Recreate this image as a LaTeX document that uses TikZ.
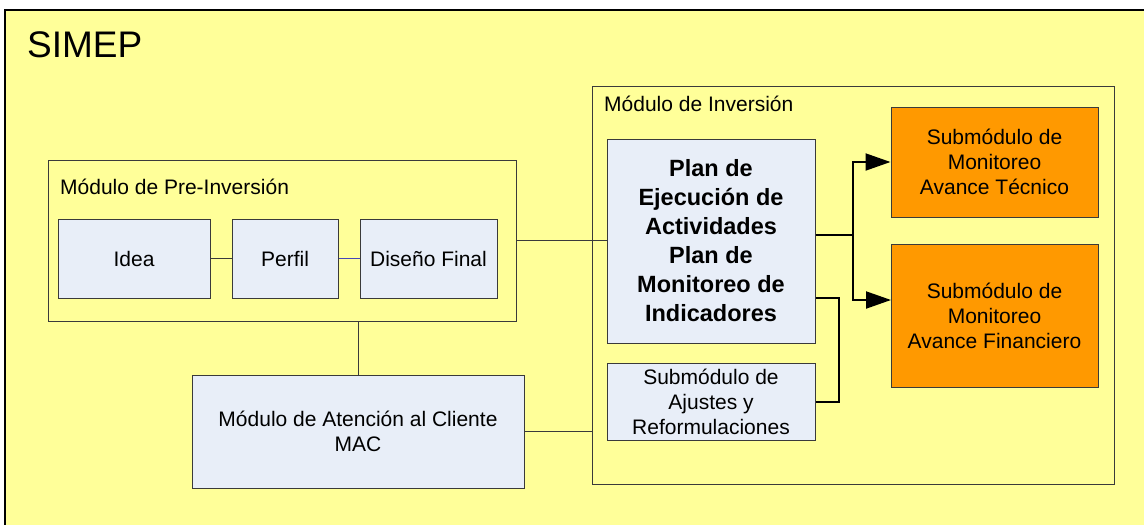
\documentclass[tikz,border=0pt]{standalone}
\usepackage{fontspec}
\setmainfont{Liberation Sans}
\usetikzlibrary{positioning}
\usetikzlibrary{arrows.meta}
\usetikzlibrary{calc}

\definecolor{simepyellow}{HTML}{FFFF99}
\definecolor{modblue}{HTML}{E8EEF8}
\definecolor{suborange}{HTML}{FF9900}
\definecolor{edgegray}{HTML}{3A3A3A}

\tikzset{
  modbox/.style={draw=edgegray, line width=1pt, fill=modblue, align=center,
    inner sep=0pt, font=\fontsize{21}{25}\selectfont},
  subbox/.style={modbox, fill=suborange},
  groupbox/.style={draw=edgegray, line width=1pt, inner sep=0pt},
  grouplabel/.style={anchor=west, inner sep=0pt, font=\fontsize{21}{25}\selectfont},
  link/.style={draw=edgegray, line width=1pt},
  flow/.style={draw=black, line width=2pt},
  flowarrow/.style={flow, -{Triangle[length=25pt,width=17pt]}}
}

\begin{document}
\begin{tikzpicture}[x=1pt, y=-1pt]
  \useasboundingbox (0,0) rectangle (1144,525);
  \fill[white] (0,0) rectangle (1144,525);
  \draw[line width=1.2pt, fill=simepyellow] (5,10) rectangle (1160,540);
  \node[anchor=west, inner sep=0pt, font=\fontsize{37}{40}\selectfont] (simep) at (27,45) {SIMEP};

  % pre-inversion
  \node[groupbox, minimum width=468pt, minimum height=161pt] (preinv) at (282,240.5) {};
  \node[grouplabel] (preinvlabel) at (60,187) {Módulo de Pre-Inversión};
  \node[modbox, minimum width=152pt, minimum height=79pt] (idea) at (134,258.5) {Idea};
  \node[modbox, minimum width=106pt, minimum height=79pt] (perfil) at (285,258.5) {Perfil};
  \node[modbox, minimum width=137pt, minimum height=79pt] (diseno) at (428.5,258.5) {Diseño Final};

  % atencion al cliente
  \node[modbox, minimum width=332pt, minimum height=113pt] (mac) at (358,431.5) {Módulo de Atención al Cliente\\MAC};

  % inversion
  \node[groupbox, minimum width=522pt, minimum height=398pt] (inv) at (853,285) {};
  \node[grouplabel] (invlabel) at (604,104) {Módulo de Inversión};
  \node[modbox, minimum width=208pt, minimum height=204pt, font=\fontsize{23.5}{29}\bfseries] (plan) at (711,241)
    {Plan de\\Ejecución de\\Actividades\\Plan de\\Monitoreo de\\Indicadores};
  \node[modbox, minimum width=208pt, minimum height=77pt] (ajustes) at (711,401.5) {Submódulo de\\Ajustes y\\Reformulaciones};
  \node[subbox, minimum width=207pt, minimum height=110pt] (tecnico) at (994.5,162) {Submódulo de\\Monitoreo\\ Avance Técnico};
  \node[subbox, minimum width=207pt, minimum height=143pt] (financiero) at (994.5,315.5) {Submódulo de\\Monitoreo\\ Avance Financiero};

  % connectors
  \draw[link] (idea.east) -- (perfil.west);
  \draw[draw=blue!45!gray, line width=0.6pt] (perfil.east) -- (diseno.west);
  \draw[link] (preinv.east) -- (preinv.east -| plan.west);
  \draw[link] (mac.north) -- (mac.north |- preinv.south);
  \draw[link] (mac.east) -- (mac.east -| inv.west);

  \coordinate (fork) at (853,235);
  \coordinate (finin) at (891,300);
  \draw[flow] (plan.east |- fork) -- (fork);
  \draw[flowarrow] (fork) |- (tecnico.west);
  \draw[flowarrow] (fork) |- (finin);
  \draw[flow] ($(plan.east)+(0,57)$) -- ++(23,0) |- (ajustes.east);
\end{tikzpicture}
\end{document}
